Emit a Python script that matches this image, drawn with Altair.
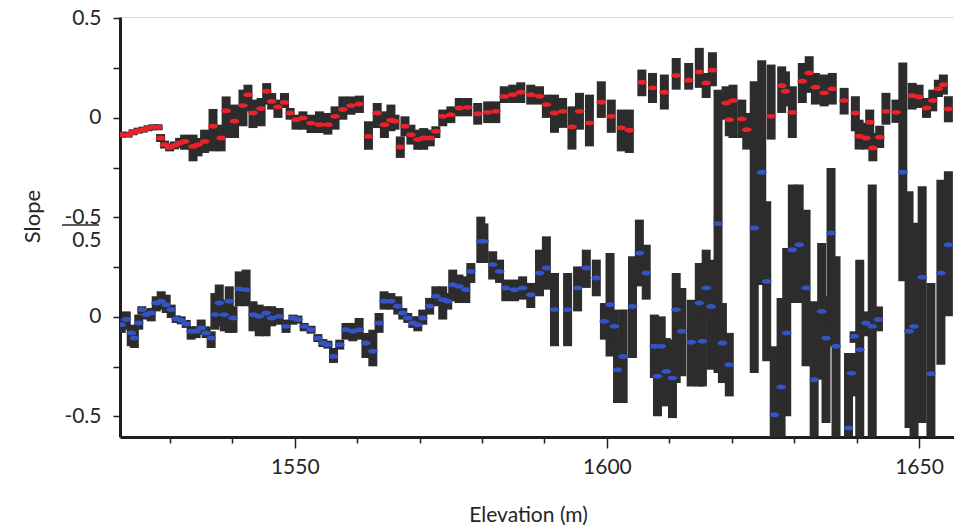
import altair as alt
import pandas as pd

# ---------------- data ----------------
# upper panel (red): elevation (m), slope, lower and upper error bound
top_elev = [1522.2, 1523.3, 1524.1, 1524.9, 1525.7, 1526.5, 1527.3, 1528.1,
            1528.5, 1529.15, 1529.95, 1530.75, 1531.55, 1532.35,
            1533.7, 1534.5, 1535.55, 1536.9, 1538.2, 1539.0, 1540.35, 1541.7, 1542.5,
            1543.3, 1544.6, 1545.5, 1546.3, 1547.3, 1548.35, 1549.25, 1550.2, 1551.3,
            1552.6, 1553.95, 1555.3, 1556.45, 1557.7, 1559.0, 1560.35,
            1561.8, 1563.2, 1564.35, 1565.4, 1566.05, 1566.9, 1567.65, 1568.6, 1569.7,
            1570.65, 1571.7, 1572.6, 1573.7, 1575.0, 1576.35, 1577.7, 1579.3, 1580.9,
            1582.2, 1583.55, 1584.9, 1586.2, 1587.8,
            1589.2, 1590.3, 1591.6, 1592.9, 1594.4, 1595.6, 1597.2, 1599.1, 1600.7,
            1602.3, 1603.6,
            1605.6, 1607.3, 1609.2, 1611.1, 1613.1, 1614.8, 1615.9, 1616.9, 1619.1,
            1619.6, 1620.2, 1621.6, 1622.4, 1626.3, 1628.0, 1628.6, 1629.7, 1631.3,
            1632.4, 1633.4, 1634.8, 1636.1, 1638.0, 1639.8, 1640.4, 1641.5, 1642.1,
            1642.6, 1643.7, 1644.7, 1646.3, 1648.9, 1650.0, 1651.2, 1652.2, 1653.1,
            1653.9, 1654.7]
top_val = [-0.084, -0.084, -0.072, -0.064, -0.059, -0.052, -0.047, -0.047,
           -0.101, -0.134, -0.148, -0.138, -0.126, -0.118,
           -0.143, -0.134, -0.118, -0.042, -0.101, 0.036, -0.017, 0.062, 0.117,
           0.025, 0.047, 0.134, 0.083, 0.055, 0.078, 0.025, -0.009, 0.000,
           -0.026, -0.034, -0.034, 0.008, 0.042, 0.062, 0.070,
           -0.093, 0.025, -0.034, -0.012, -0.017, -0.146, -0.042, -0.084, -0.109,
           -0.101, -0.101, -0.067, 0.008, 0.016, 0.050, 0.053, 0.021, 0.028,
           0.033, 0.108, 0.117, 0.129, 0.117,
           0.109, 0.067, 0.025, 0.033, -0.045, 0.033, -0.025, 0.079, 0.008,
           -0.050, -0.062,
           0.179, 0.151, 0.129, 0.213, 0.189, 0.231, 0.176, 0.240, 0.075,
           -0.009, 0.087, -0.005, -0.059, 0.008, 0.162, 0.134, 0.028, 0.184,
           0.226, 0.154, 0.126, 0.146, 0.087, 0.025, -0.092, -0.101, -0.022,
           -0.151, -0.097, 0.033, 0.028, 0.112, 0.105, 0.050, 0.087, 0.146,
           0.167, 0.045]
top_lo = [-0.099, -0.099, -0.087, -0.079, -0.074, -0.067, -0.062, -0.062,
          -0.121, -0.154, -0.168, -0.158, -0.150, -0.160,
          -0.218, -0.193, -0.176, -0.168, -0.168, -0.101, -0.101, -0.042, 0.033,
          -0.051, -0.042, 0.067, 0.042, 0.000, 0.050, -0.009, -0.059, -0.059,
          -0.076, -0.076, -0.084, -0.059, -0.009, 0.016, 0.025,
          -0.160, -0.051, -0.101, -0.067, -0.059, -0.201, -0.093, -0.134, -0.160,
          -0.160, -0.143, -0.101, -0.042, -0.026, 0.008, 0.008, -0.034, -0.026,
          -0.026, 0.075, 0.075, 0.075, 0.067,
          0.067, 0.000, -0.075, -0.050, -0.159, -0.059, -0.143, 0.000, -0.075,
          -0.168, -0.176,
          0.109, 0.075, 0.042, 0.142, 0.142, 0.151, 0.100, 0.159, -0.009,
          -0.092, -0.101, -0.101, -0.159, -0.109, 0.025, 0.058, -0.101, 0.075,
          0.126, 0.067, 0.058, 0.067, 0.017, -0.067, -0.159, -0.159, -0.092,
          -0.218, -0.151, -0.034, -0.025, 0.042, 0.050, 0.000, 0.033, 0.105,
          0.117, -0.022]
top_hi = [-0.069, -0.069, -0.057, -0.049, -0.044, -0.037, -0.032, -0.032,
          -0.081, -0.114, -0.128, -0.118, -0.100, -0.084,
          -0.084, -0.101, -0.059, 0.045, -0.034, 0.108, 0.067, 0.142, 0.167,
          0.092, 0.100, 0.175, 0.125, 0.092, 0.125, 0.050, 0.016, 0.033,
          0.016, 0.033, 0.025, 0.058, 0.108, 0.108, 0.112,
          -0.017, 0.075, 0.033, 0.067, 0.016, -0.093, 0.008, -0.034, -0.059,
          -0.051, -0.059, -0.042, 0.042, 0.058, 0.100, 0.100, 0.075, 0.083,
          0.083, 0.159, 0.167, 0.179, 0.167,
          0.159, 0.117, 0.117, 0.100, 0.058, 0.126, 0.117, 0.184, 0.092,
          0.042, 0.042,
          0.243, 0.226, 0.218, 0.301, 0.276, 0.352, 0.226, 0.330, 0.159,
          0.058, 0.167, 0.092, 0.025, 0.268, 0.259, 0.234, 0.159, 0.276,
          0.310, 0.226, 0.218, 0.226, 0.151, 0.109, -0.009, -0.025, 0.042,
          -0.075, -0.039, 0.126, 0.092, 0.176, 0.167, 0.100, 0.142, 0.192,
          0.218, 0.109]

# lower panel (blue)
bot_elev = [1522.2, 1523.0, 1523.8, 1524.3, 1525.0, 1525.5, 1526.2, 1527.0, 1527.8,
            1528.6, 1529.4, 1530.2, 1531.0, 1531.8, 1532.6, 1533.4, 1534.2, 1535.0,
            1535.8, 1536.6, 1537.2, 1537.9, 1538.7, 1539.5, 1540.1, 1541.1, 1542.2,
            1543.3, 1544.3, 1545.4, 1546.3, 1547.5, 1548.6, 1549.7, 1550.5, 1551.5,
            1552.6, 1553.7, 1554.5, 1555.3, 1556.2, 1557.2, 1558.2, 1559.3, 1560.3,
            1561.4, 1562.5, 1563.5, 1564.3, 1565.4, 1566.5, 1567.3, 1568.1, 1568.9,
            1569.7, 1570.5, 1571.6, 1572.6, 1573.7, 1574.5, 1575.3, 1576.3, 1577.4,
            1578.2, 1579.8, 1580.3, 1581.7, 1582.8, 1583.8, 1585.2, 1586.5, 1587.8,
            1589.2, 1590.3, 1591.6, 1593.7, 1595.3, 1596.7, 1598.3, 1599.6, 1600.5,
            1601.2, 1601.7, 1602.6, 1604.1, 1605.2, 1606.3, 1607.6, 1608.1, 1608.7,
            1609.5, 1610.5, 1611.1, 1612.0, 1613.5, 1614.8, 1615.3, 1615.9, 1616.7,
            1617.8, 1618.5, 1619.6, 1623.6, 1624.8, 1625.6, 1626.8, 1627.9, 1628.8,
            1629.7, 1630.8, 1631.9, 1633.2, 1634.4, 1635.1, 1635.9, 1636.7, 1638.7,
            1639.2, 1639.6, 1640.5, 1641.5, 1642.5, 1643.5, 1647.4, 1648.4, 1649.2,
            1650.5, 1651.9, 1653.5, 1654.7]
bot_val = [-0.039, -0.013, -0.080, -0.106, -0.030, 0.037, 0.012, 0.020, 0.070,
           0.079, 0.062, 0.037, -0.009, -0.017, -0.035, -0.072, -0.072, -0.055,
           -0.080, -0.106, 0.012, 0.070, 0.012, 0.079, -0.005, 0.141, 0.137,
           0.012, 0.003, 0.020, -0.005, 0.003, -0.047, -0.005, -0.013, -0.047,
           -0.064, -0.106, -0.131, -0.139, -0.198, -0.139, -0.064, -0.072, -0.064,
           -0.131, -0.172, -0.030, 0.079, 0.079, 0.054, 0.020, -0.005, -0.030,
           -0.039, -0.005, 0.054, 0.104, 0.087, 0.079, 0.162, 0.154, 0.137,
           0.229, 0.380, 0.380, 0.263, 0.229, 0.146, 0.137, 0.146, 0.112,
           0.221, 0.246, 0.037, 0.037, 0.146, 0.246, 0.196, -0.022, 0.062,
           -0.047, -0.265, -0.198, 0.053, 0.321, 0.221, -0.147, -0.298, -0.147,
           -0.274, -0.307, 0.037, -0.072, -0.127, 0.070, -0.122, 0.146, 0.053,
           0.469, -0.131, -0.240, 0.447, 0.727, 0.179, -0.491, -0.352, -0.080,
           0.338, 0.363, 0.146, -0.315, 0.028, -0.106, 0.422, -0.147, -0.558,
           -0.282, -0.097, -0.164, -0.030, -0.047, -0.013, 0.727, -0.072, -0.047,
           0.200, -0.285, 0.221, 0.363]
bot_lo = [-0.080, -0.064, -0.147, -0.156, -0.064, 0.012, -0.013, -0.022, 0.028,
          0.037, 0.020, -0.005, -0.030, -0.037, -0.055, -0.114, -0.106, -0.089,
          -0.106, -0.156, -0.064, -0.047, -0.072, -0.080, -0.080, 0.054, 0.054,
          -0.072, -0.097, -0.097, -0.047, -0.039, -0.080, -0.039, -0.033, -0.072,
          -0.084, -0.126, -0.151, -0.159, -0.231, -0.164, -0.114, -0.122, -0.114,
          -0.206, -0.248, -0.080, 0.037, 0.037, 0.012, -0.013, -0.030, -0.055,
          -0.072, -0.039, 0.012, 0.054, -0.013, 0.037, 0.079, 0.070, 0.070,
          0.171, 0.271, 0.271, 0.188, 0.171, 0.079, 0.079, 0.087, 0.045,
          0.104, 0.137, -0.147, -0.147, 0.028, 0.146, 0.104, -0.114, -0.198,
          -0.131, -0.432, -0.432, -0.206, 0.154, 0.087, -0.307, -0.499, -0.298,
          -0.449, -0.508, -0.332, -0.298, -0.349, -0.349, -0.349, 0.003, -0.265,
          -0.282, -0.332, -0.399, -0.282, 0.160, -0.223, -0.700, -0.700, -0.499,
          0.070, 0.070, -0.248, -0.700, -0.315, -0.533, -0.147, -0.700, -0.700,
          -0.399, -0.130, -0.700, -0.097, -0.700, -0.072, 0.179, -0.558, -0.700,
          -0.533, -0.700, -0.240, 0.003]
bot_hi = [-0.005, 0.028, -0.039, -0.047, 0.012, 0.054, 0.037, 0.045, 0.104,
          0.129, 0.112, 0.062, 0.008, 0.003, -0.015, -0.047, -0.047, -0.013,
          -0.047, -0.072, 0.120, 0.163, 0.087, 0.154, 0.054, 0.229, 0.238,
          0.079, 0.062, 0.054, 0.054, 0.045, -0.013, 0.012, 0.007, -0.030,
          -0.044, -0.086, -0.111, -0.119, -0.156, -0.114, -0.030, -0.030, -0.005,
          -0.080, -0.064, 0.020, 0.129, 0.120, 0.104, 0.045, 0.020, 0.003,
          0.003, 0.037, 0.096, 0.154, 0.154, 0.120, 0.238, 0.213, 0.204,
          0.271, 0.504, 0.470, 0.330, 0.288, 0.188, 0.188, 0.204, 0.171,
          0.338, 0.405, 0.221, 0.221, 0.254, 0.338, 0.288, 0.070, 0.321,
          0.037, -0.097, 0.037, 0.305, 0.489, 0.363, 0.012, -0.005, 0.003,
          -0.106, -0.114, 0.221, 0.146, 0.087, 0.271, 0.070, 0.338, 0.288,
          1.142, 0.070, -0.080, 1.184, 1.290, 0.581, -0.147, 0.095, 0.347,
          0.665, 0.665, 0.539, 0.079, 0.372, 0.104, 0.749, 0.305, -0.181,
          -0.181, -0.072, 0.288, 0.028, 0.665, 0.053, 1.278, 0.631, 0.473,
          0.657, 0.171, 0.690, 0.732]

# the lower panel is drawn one unit below the upper one on a shared axis
PANEL_SHIFT = 1.0
y_major = [0.5, 0.0, -0.5, -1.0, -1.5]
y_minor = [0.25, -0.25, -0.75, -1.25]
x_ticks = [1530, 1540, 1550, 1560, 1570, 1580, 1590, 1600, 1610, 1620, 1630, 1640, 1650]

rows = []
for e, v, lo, hi in zip(top_elev, top_val, top_lo, top_hi):
    rows.append({"elev": e, "val": v, "lo": lo, "hi": hi, "series": "upper", "shift": 0.0})
for e, v, lo, hi in zip(bot_elev, bot_val, bot_lo, bot_hi):
    rows.append({"elev": e, "val": v, "lo": lo, "hi": hi, "series": "lower", "shift": PANEL_SHIFT})
df = pd.DataFrame(rows)

FONT = "Lato"
INK = "#1e1e1e"

xscale = alt.Scale(domain=[1522.0, 1655.6], nice=False, zero=False)
yscale = alt.Scale(domain=[-1.603, 0.507], nice=False, zero=False)

x_axis = alt.Axis(
    values=x_ticks, format="d", grid=False,
    labelExpr="datum.value % 50 == 0 ? datum.label : ''",
    tickSize={"condition": {"test": "datum.value % 50 == 0", "value": 11}, "value": 6},
    tickWidth=1.5, tickColor=INK,
    domainColor=INK, domainWidth=3,
    labelFont=FONT, labelFontSize=21, labelColor="#262626", labelPadding=8,
    title="Elevation (m)", titleFont=FONT, titleFontSize=21, titleFontWeight="normal",
    titleColor="#262626", titleX=408, titleY=78, titleBaseline="middle",
)
y_axis = alt.Axis(
    values=y_major + y_minor, grid=False,
    labelExpr=("datum.value == 0.5 ? '0.5' : datum.value == 0 ? '0' : "
               "datum.value == -0.5 ? ['-0.5', '0.5'] : datum.value == -1 ? '0' : "
               "datum.value == -1.5 ? '-0.5' : ''"),
    tickSize=7, tickWidth=1.5, tickColor=INK,
    domainColor=INK, domainWidth=3,
    labelFont=FONT, labelFontSize=21, labelColor="#262626", labelPadding=12,
    labelLineHeight=23,
    title="Slope", titleFont=FONT, titleFontSize=22, titleFontWeight="normal",
    titleColor="#262626", titleX=-88, titleY=199, titleAngle=-90,
    titleBaseline="middle", titleAlign="center",
)

base = alt.Chart(df).transform_calculate(
    yv="datum.val - datum.shift",
    ylo="datum.lo - datum.shift",
    yhi="datum.hi - datum.shift",
)

bars = base.mark_rule(strokeWidth=9, color="#2c2c2c", clip=True, strokeCap="butt").encode(
    x=alt.X("elev:Q", scale=xscale, axis=x_axis),
    y=alt.Y("ylo:Q", scale=yscale, axis=y_axis),
    y2="yhi:Q",
)

ellipse = "M-1,0A1,0.5,0,1,0,1,0A1,0.5,0,1,0,-1,0Z"
dots = base.mark_point(shape=ellipse, filled=True, size=95, opacity=1, clip=True).encode(
    x=alt.X("elev:Q", scale=xscale),
    y=alt.Y("yv:Q", scale=yscale),
    color=alt.Color("series:N",
                    scale=alt.Scale(domain=["upper", "lower"], range=["#e8232b", "#3453c4"]),
                    legend=None),
)

# bar under the "-0.5" of the shared tick label
underline = alt.Chart(pd.DataFrame({"k": [0]})).mark_rule(color="#262626", strokeWidth=1.5).encode(
    x=alt.value(-58), x2=alt.value(-21), y=alt.value(208)
)

chart = alt.layer(bars, dots, underline).properties(
    width=834, height=420,
    padding={"left": 120, "top": 17, "right": 0, "bottom": 94},
    autosize="none",
).configure_view(stroke=INK, strokeWidth=1.5).configure(background="white")

chart.save("out.html", embed_options={"renderer": "svg", "actions": False})
